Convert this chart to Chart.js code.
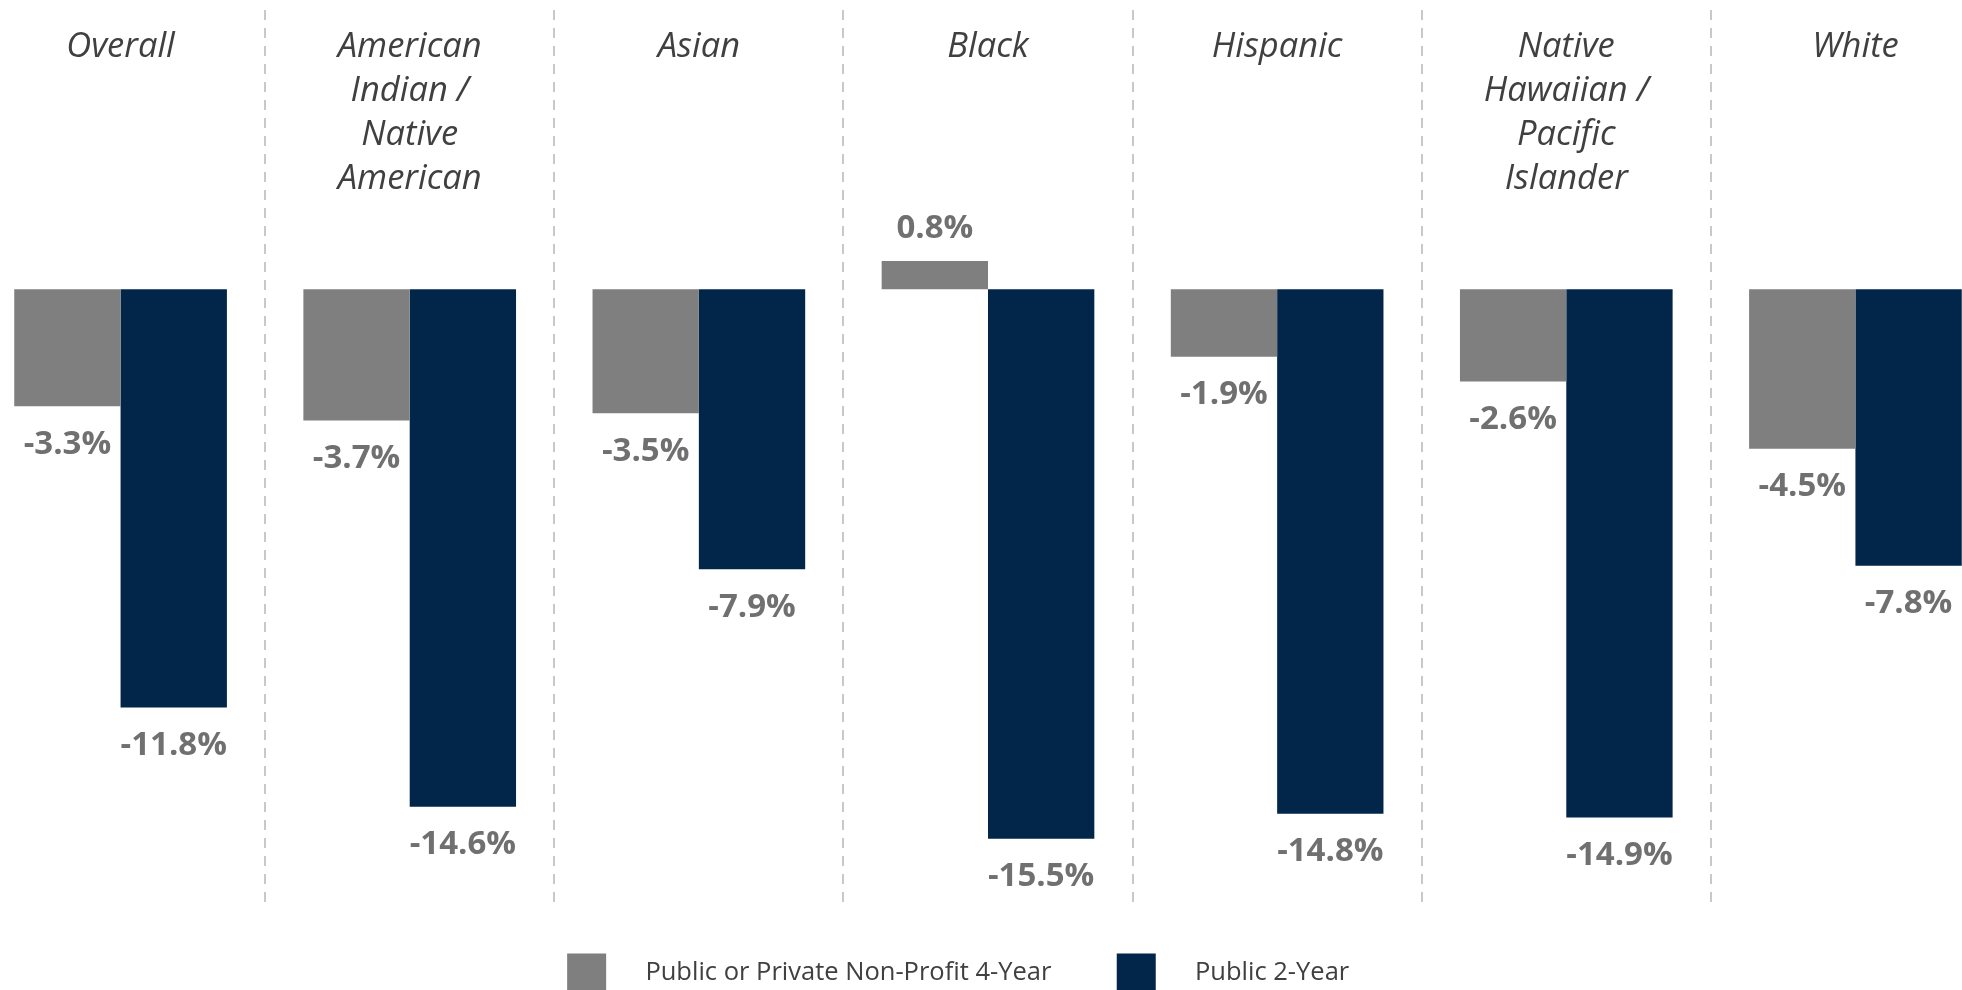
<!DOCTYPE html>
<html>
<head>
<meta charset="utf-8">
<script src="https://cdn.jsdelivr.net/npm/chart.js@4"></script>
<style>
  html, body { margin: 0; padding: 0; background: #fff; overflow: hidden; }
  #wrap { position: absolute; left: -24px; top: 0; width: 2024px; height: 990px; }
</style>
</head>
<body>
<div id="wrap"><canvas id="chart"></canvas></div>
<script>
// categories (multi-line labels) and the two series
const categories = [
  ['Overall'],
  ['American', 'Indian /', 'Native', 'American'],
  ['Asian'],
  ['Black'],
  ['Hispanic'],
  ['Native', 'Hawaiian /', 'Pacific', 'Islander'],
  ['White']
];
const seriesNames = ['Public or Private Non-Profit 4-Year', 'Public 2-Year'];
const fourYear = [-3.3, -3.7, -3.5, 0.8, -1.9, -2.6, -4.5];
const twoYear = [-11.8, -14.6, -7.9, -15.5, -14.8, -14.9, -7.8];
const seriesColors = ['#7f7f7f', '#01264a'];

// value range of the (hidden) y axis
const yMin = -17.457;
const yMax = 7.881;

// value labels under / above each bar
const valueLabels = {
  id: 'valueLabels',
  afterDatasetsDraw(chart) {
    const ctx = chart.ctx;
    ctx.save();
    ctx.font = 'bold 33px "Open Sans"';
    ctx.fillStyle = '#707070';
    ctx.textAlign = 'center';
    ctx.textBaseline = 'middle';
    chart.data.datasets.forEach((ds, i) => {
      chart.getDatasetMeta(i).data.forEach((bar, j) => {
        const v = ds.data[j];
        const y = v < 0 ? bar.y + 38 : bar.y - 32;
        ctx.fillText(v.toFixed(1) + '%', bar.x, y);
      });
    });
    ctx.restore();
  }
};

new Chart(document.getElementById('chart'), {
  type: 'bar',
  data: {
    labels: categories,
    datasets: [
      { label: seriesNames[0], data: fourYear, backgroundColor: seriesColors[0], borderWidth: 0 },
      { label: seriesNames[1], data: twoYear, backgroundColor: seriesColors[1], borderWidth: 0 }
    ]
  },
  options: {
    responsive: true,
    maintainAspectRatio: false,
    animation: false,
    layout: { padding: { top: 10, bottom: -12.5, left: 0, right: 0 } },
    datasets: { bar: { categoryPercentage: 0.7355, barPercentage: 1 } },
    scales: {
      x: {
        // category names sit inside the plot, hung from its top edge
        position: { y: yMax },
        offset: true,
        grid: {
          offset: true,
          color: '#c8c8c8',
          lineWidth: 2,
          drawTicks: false
        },
        border: { display: false, dash: [10, 8] },
        ticks: {
          padding: 15,
          autoSkip: false,
          maxRotation: 0,
          color: '#404040',
          font: { family: 'Open Sans', style: 'italic', size: 34.5, lineHeight: '44px' }
        }
      },
      y: {
        display: false,
        min: yMin,
        max: yMax
      }
    },
    plugins: {
      tooltip: { enabled: false },
      legend: {
        position: 'bottom',
        labels: {
          boxWidth: 39,
          boxHeight: 39,
          padding: 45.5,
          color: '#404040',
          font: { family: 'Open Sans', size: 25.5 },
          generateLabels(chart) {
            const items = Chart.defaults.plugins.legend.labels.generateLabels(chart);
            items[0].text = '    ' + items[0].text + '   ';
            items[1].text = '    ' + items[1].text + '         ';
            return items;
          }
        }
      }
    }
  },
  plugins: [valueLabels]
});
</script>
</body>
</html>
